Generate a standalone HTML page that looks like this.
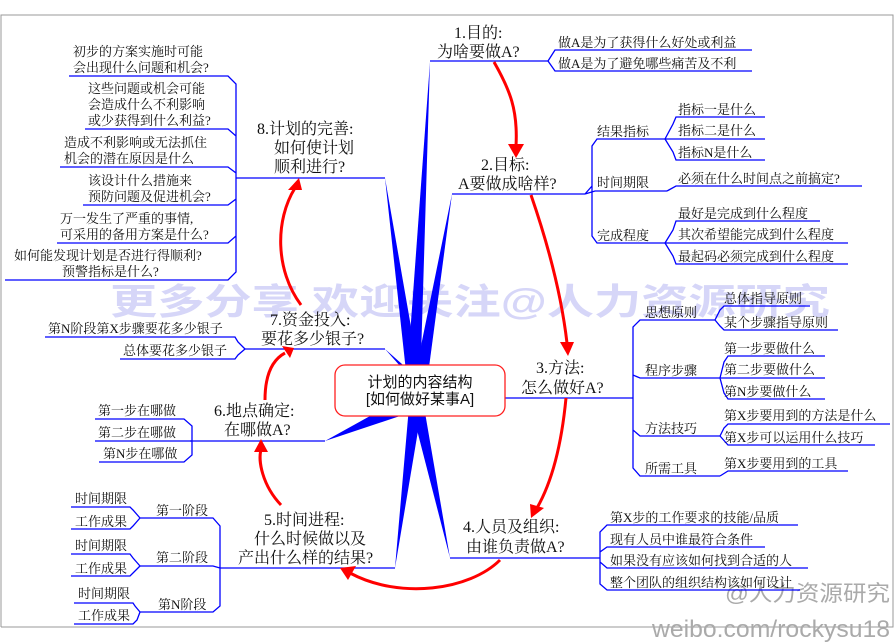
<!DOCTYPE html>
<html><head><meta charset="utf-8"><style>
html,body{margin:0;padding:0;background:#fff;}
svg{display:block;}
text{font-family:"Liberation Serif","Noto Serif CJK SC",serif;fill:#111;}
.c{font-size:13px;}
.m{font-size:16px;}
</style></head><body>
<svg width="895" height="643" viewBox="0 0 895 643" xmlns="http://www.w3.org/2000/svg">
<rect x="0" y="0" width="895" height="643" fill="#fff"/>
<path d="M1 627 V15 H893 V627 H1" fill="none" stroke="#999" stroke-width="1"/>
<!-- watermark -->
<text x="110" y="314" textLength="720" lengthAdjust="spacingAndGlyphs" style="font-family:'Liberation Sans','Noto Sans CJK SC',sans-serif;font-size:36px;font-weight:bold;fill:#d6d6f8">更多分享 欢迎关注@人力资源研究</text>
<text x="725" y="601" textLength="165" lengthAdjust="spacingAndGlyphs" style="font-family:'Liberation Sans','Noto Sans CJK SC',sans-serif;font-size:22px;fill:#aaa">@人力资源研究</text>
<text x="652" y="637" textLength="238" lengthAdjust="spacingAndGlyphs" style="font-family:'Liberation Sans',sans-serif;font-size:24px;fill:#aaa">weibo.com/rockysu18</text>

<!-- thick wedges -->
<g fill="#0000ff">
<polygon points="430,62 406,390 420,390"/>
<polygon points="452,194 412,390 426,390"/>
<polygon points="385,178 408,390 422,390"/>
<polygon points="385,349 408,375 420,380"/>
<polygon points="325,441 390,405 400,416"/>
<polygon points="395,568 410,395 424,395"/>
<polygon points="450,558 408,395 422,395"/>
</g>

<g fill="none" stroke="#0000ff" stroke-width="1.3">
<path d="M430 61 H548"/>
<path d="M548 61 L555 50 H752 M548 61 L555 71 H752"/>
<path d="M452 194 H585"/>
<path d="M585 194 L592 186 V146 L597 139 H665 M592 186 V236 L597 243 H665 M585 194 L595 191 H667"/>
<path d="M665 139 L673 124 L676 117 H765 M665 139 H765 M665 139 L673 152 L676 160 H765"/>
<path d="M667 191 L676 186 H862"/>
<path d="M665 243 L673 230 L676 221 H820 M665 243 H848 M665 243 L673 256 L676 264 H848"/>
<path d="M505 398 H633"/>
<path d="M633 398 V327 L640 320 H715 M633 398 V375 L640 378 H720 M633 398 V430 L640 436 H720 M633 398 V468 L640 476 H720"/>
<path d="M715 320 L720 310 L724 306 H810 M715 320 L720 326 L724 330 H838"/>
<path d="M720 378 L724 362 L728 356 H825 M720 378 H825 M720 378 L724 393 L728 399 H825"/>
<path d="M720 436 L724 428 L728 424 H890 M720 436 L728 445 H875"/>
<path d="M720 476 L728 471 H848"/>
<path d="M450 558 H600"/>
<path d="M600 558 L600 532 L607 525 H798 M600 558 V552 L607 547 H765 M600 558 V562 L607 568 H808 M600 558 V584 L607 590 H800"/>
<path d="M220 568 H395"/>
<path d="M220 568 V526 L213 518 H140 M220 568 L213 566 H140 M220 568 V606 L213 612 H140"/>
<path d="M140 518 L133 510 L130 507 H71 M140 518 L133 526 L130 529 H71"/>
<path d="M140 566 L133 558 L130 554 H71 M140 566 L133 573 L130 576 H71"/>
<path d="M140 612 L135 606 L133 603 H74 M140 612 L137 620 L133 624 H74"/>
<path d="M190 441 H325"/>
<path d="M192 441 V426 L184 419 H95 M192 441 H95 M192 441 V455 L184 462 H99"/>
<path d="M245 349 H385"/>
<path d="M245 349 L238 342 L235 337 H45 M245 349 L238 355 L235 359 H120"/>
<path d="M236 178 H385"/>
<path d="M236 178 V84 L228 76 H69 M236 178 V136 L228 129 H85 M236 178 V173 L228 167 H60 M236 178 V199 L228 205 H83 M236 178 V236 L228 243 H57 M236 178 V272 L228 280 H5"/>
</g>

<g fill="none" stroke="#ff0000" stroke-width="3">
<path d="M494 62 C510 90 518 110 516 146"/>
<path d="M531 195 C550 250 562 300 567 343"/>
<path d="M566 398 C562 440 553 480 537 508"/>
<path d="M500 560 C470 590 400 600 350 573"/>
<path d="M281 505 C262 485 258 460 261 450"/>
<path d="M265 400 C265 375 272 360 285 353"/>
<path d="M301 305 C275 270 275 220 295 188"/>
</g>
<g fill="#ff0000">
<polygon points="508,144 524,144 516,158"/>
<polygon points="560,342 574,342 568,356"/>
<polygon points="530,504 544,508 531,518"/>
<polygon points="340,568 356,566 348,580"/>
<polygon points="254,452 268,452 261,439"/>
<polygon points="282,346 294,348 290,358"/>
<polygon points="288,190 302,190 299,178"/>
</g>

<rect x="335" y="365" width="170" height="51" rx="10" fill="#fff" stroke="#ff2020" stroke-width="1.3"/>
<text x="420" y="387" text-anchor="middle" style="font-family:'Liberation Sans','Noto Sans CJK SC',sans-serif;font-size:15px;">计划的内容结构</text>
<text x="420" y="404" text-anchor="middle" style="font-family:'Liberation Sans','Noto Sans CJK SC',sans-serif;font-size:15px;">[如何做好某事A]</text>

<g class="m">
<text x="454" y="38">1.目的:</text><text x="437" y="57">为啥要做A?</text>
<text x="481" y="170">2.目标:</text><text x="458" y="189">A要做成啥样?</text>
<text x="536" y="373">3.方法:</text><text x="521" y="393">怎么做好A?</text>
<text x="463" y="532">4.人员及组织:</text><text x="466" y="552">由谁负责做A?</text>
<text x="264" y="525">5.时间进程:</text><text x="254" y="544">什么时候做以及</text><text x="238" y="563">产出什么样的结果?</text>
<text x="214" y="416">6.地点确定:</text><text x="224" y="435">在哪做A?</text>
<text x="270" y="325">7.资金投入:</text><text x="261" y="344">要花多少银子?</text>
<text x="257" y="134">8.计划的完善:</text><text x="274" y="153">如何使计划</text><text x="274" y="172">顺利进行?</text>
</g>

<g class="c">
<text x="558" y="47">做A是为了获得什么好处或利益</text>
<text x="558" y="68">做A是为了避免哪些痛苦及不利</text>
<text x="597" y="136">结果指标</text>
<text x="678" y="114">指标一是什么</text>
<text x="678" y="135">指标二是什么</text>
<text x="678" y="157">指标N是什么</text>
<text x="597" y="187">时间期限</text>
<text x="678" y="183">必须在什么时间点之前搞定?</text>
<text x="597" y="240">完成程度</text>
<text x="678" y="218">最好是完成到什么程度</text>
<text x="678" y="239">其次希望能完成到什么程度</text>
<text x="678" y="261">最起码必须完成到什么程度</text>

<text x="645" y="317">思想原则</text>
<text x="724" y="303">总体指导原则</text>
<text x="724" y="327">某个步骤指导原则</text>
<text x="645" y="375">程序步骤</text>
<text x="724" y="353">第一步要做什么</text>
<text x="724" y="374">第二步要做什么</text>
<text x="724" y="396">第N步要做什么</text>
<text x="645" y="433">方法技巧</text>
<text x="724" y="420">第X步要用到的方法是什么</text>
<text x="724" y="442">第X步可以运用什么技巧</text>
<text x="645" y="473">所需工具</text>
<text x="724" y="468">第X步要用到的工具</text>

<text x="610" y="522">第X步的工作要求的技能/品质</text>
<text x="610" y="544">现有人员中谁最符合条件</text>
<text x="610" y="565">如果没有应该如何找到合适的人</text>
<text x="610" y="587">整个团队的组织结构该如何设计</text>

<text x="156" y="515">第一阶段</text>
<text x="75" y="503">时间期限</text><text x="75" y="526">工作成果</text>
<text x="156" y="562">第二阶段</text>
<text x="75" y="550">时间期限</text><text x="75" y="573">工作成果</text>
<text x="158" y="609">第N阶段</text>
<text x="78" y="598">时间期限</text><text x="78" y="620">工作成果</text>

<text x="98" y="415">第一步在哪做</text>
<text x="98" y="437">第二步在哪做</text>
<text x="103" y="458">第N步在哪做</text>

<text x="48" y="333">第N阶段第X步骤要花多少银子</text>
<text x="123" y="355">总体要花多少银子</text>

<text x="73" y="56">初步的方案实施时可能</text>
<text x="73" y="72">会出现什么问题和机会?</text>
<text x="88" y="93">这些问题或机会可能</text>
<text x="88" y="109">会造成什么不利影响</text>
<text x="88" y="125">或少获得到什么利益?</text>
<text x="64" y="147">造成不利影响或无法抓住</text>
<text x="64" y="163">机会的潜在原因是什么</text>
<text x="88" y="185">该设计什么措施来</text>
<text x="88" y="201">预防问题及促进机会?</text>
<text x="60" y="223">万一发生了严重的事情,</text>
<text x="60" y="239">可采用的备用方案是什么?</text>
<text x="14" y="260">如何能发现计划是否进行得顺利?</text>
<text x="62" y="276">预警指标是什么?</text>
</g>
</svg>
</body></html>
